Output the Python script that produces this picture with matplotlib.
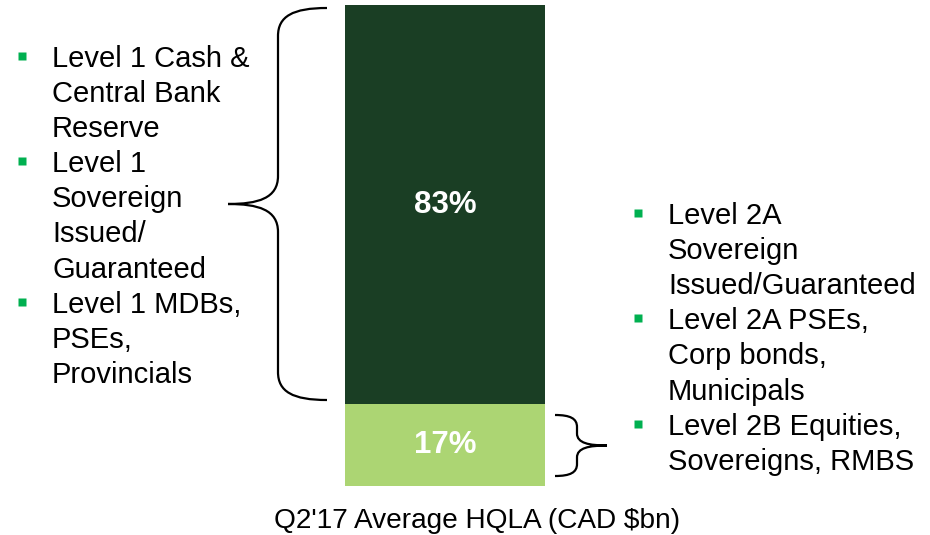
import matplotlib.pyplot as plt
from matplotlib.path import Path
from matplotlib.patches import PathPatch

plt.rcParams['font.family'] = ['Liberation Sans', 'DejaVu Sans']

# data (stacked bottom to top)
segments = ["Level 2", "Level 1"]
shares = [17, 83]
seg_colors = ['#acd573', '#1a3e24']
title = "Q2'17 Average HQLA (CAD $bn)"

left_items = [
    ["Level 1 Cash &", "Central Bank", "Reserve"],
    ["Level 1", "Sovereign", "Issued/", "Guaranteed"],
    ["Level 1 MDBs,", "PSEs,", "Provincials"],
]
right_items = [
    ["Level 2A", "Sovereign", "Issued/Guaranteed"],
    ["Level 2A PSEs,", "Corp bonds,", "Municipals"],
    ["Level 2B Equities,", "Sovereigns, RMBS"],
]

W, H = 930, 535
fig = plt.figure(figsize=(W / 100, H / 100), dpi=100)

# the bar itself
bx = fig.add_axes([345 / W, (H - 486) / H, 200 / W, 481 / H])
bottom = 0
for name, val, col in zip(segments, shares, seg_colors):
    bx.bar(0, val, width=1, bottom=bottom, color=col, linewidth=0)
    bx.text(0, bottom + val / 2, f"{val}%", ha='center', va='center',
            color='white', fontsize=22.5, fontweight='bold')
    bottom += val
bx.set_xlim(-0.5, 0.5)
bx.set_ylim(0, 100)
bx.axis('off')

# overlay in pixel coords for braces and bullet text
ov = fig.add_axes([0, 0, 1, 1])
ov.set_xlim(0, W)
ov.set_ylim(H, 0)
ov.axis('off')
ov.patch.set_alpha(0)


def brace(x_end, x_line, x_tip, y0, y1, r):
    ym = (y0 + y1) / 2
    verts = [(x_end, y0),
             (x_line + (x_end - x_line) * 0.3, y0), (x_line, y0 + r * 0.3), (x_line, y0 + r),
             (x_line, ym - r),
             (x_line, ym - r * 0.2), (x_line - (x_line - x_tip) * 0.4, ym), (x_tip, ym),
             (x_line - (x_line - x_tip) * 0.4, ym), (x_line, ym + r * 0.2), (x_line, ym + r),
             (x_line, y1 - r),
             (x_line, y1 - r * 0.3), (x_line + (x_end - x_line) * 0.3, y1), (x_end, y1)]
    codes = [Path.MOVETO, Path.CURVE4, Path.CURVE4, Path.CURVE4, Path.LINETO,
             Path.CURVE4, Path.CURVE4, Path.CURVE4,
             Path.CURVE4, Path.CURVE4, Path.CURVE4, Path.LINETO,
             Path.CURVE4, Path.CURVE4, Path.CURVE4]
    ov.add_patch(PathPatch(Path(verts, codes), fill=False, lw=1.6, color='black'))


brace(327, 278, 228, 8, 400, 28)
brace(555, 577, 607, 415, 476, 12)


def bullets(items, x_text, x_bul, y_first, step=35.1):
    i = 0
    for item in items:
        ov.plot(x_bul, y_first + step * i - 11, marker='s', ms=5.3,
                color='#00b050', mec='none')
        for line in item:
            ov.text(x_text, y_first + step * i, line, fontsize=21,
                    va='baseline', ha='left', color='black')
            i += 1


bullets(left_items, 52, 22, 67)
bullets(right_items, 668, 638, 224)

ov.text(477, 528, title, fontsize=20.2, ha='center', va='baseline', color='black')

fig.savefig('out.png', dpi=100)
